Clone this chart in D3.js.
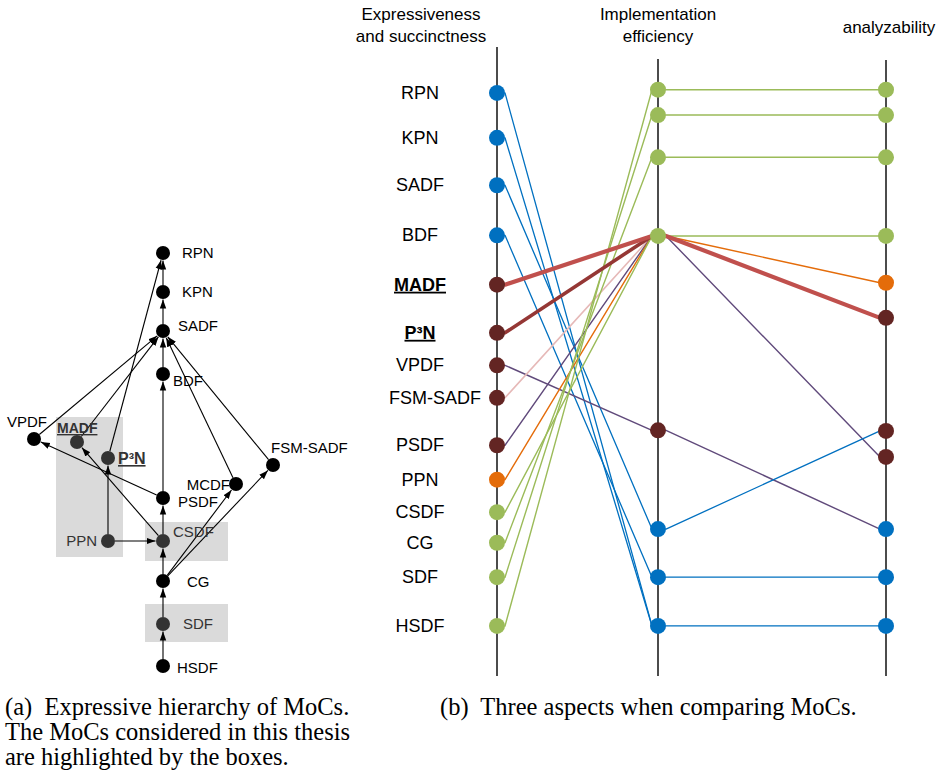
<!DOCTYPE html>
<html><head><meta charset="utf-8">
<script src="https://cdn.jsdelivr.net/npm/d3@7"></script>
<style>body{margin:0;background:#fff}</style>
</head><body>
<svg id="c" width="941" height="778" xmlns="http://www.w3.org/2000/svg"></svg>
<script>
// ================= DATA =================
// (a) expressive hierarchy
const hierNames  = ["RPN","KPN","SADF","BDF","VPDF","MADF","P³N","FSM-SADF","MCDF","PSDF","PPN","CSDF","CG","SDF","HSDF"];
const hierCol    = [129,129,129,129,0,43,74,239,202,129,74,129,129,129,129];
const hierLevel  = [41.3,37.4,33.5,29.2,22.7,22.4,20.8,20.1,18.2,16.8,12.5,12.5,8.5,4.2,0];
const hierEdges  = [["KPN","RPN"],["SADF","KPN"],["BDF","SADF"],["PSDF","BDF"],["CSDF","PSDF"],["CG","CSDF"],
                    ["SDF","CG"],["HSDF","SDF"],["VPDF","SADF"],["MADF","SADF"],["P³N","RPN"],["MCDF","SADF"],
                    ["FSM-SADF","SADF"],["PSDF","VPDF"],["CSDF","MADF"],["PPN","P³N"],["PPN","CSDF"],
                    ["CG","MCDF"],["CG","FSM-SADF"]];
const thesisGroups = [["MADF","P³N","PPN"],["CSDF"],["SDF"]];

// (b) three aspects
const aspects    = ["Expressiveness\nand succinctness","Implementation\nefficiency","analyzability"];
const mocNames   = ["RPN","KPN","SADF","BDF","MADF","P³N","VPDF","FSM-SADF","PSDF","PPN","CSDF","CG","SDF","HSDF"];
const mocClass   = ["blue","blue","blue","blue","brown","brown","brown","brown","brown","orange","green","green","green","green"];
const exprScore  = [89.7,82.8,75.5,67.8,60.2,52.8,47.8,42.8,35.5,30.2,25.2,20.5,15.2,7.7];
const implScore  = [90.2,86.3,79.8,67.7,37.8,22.6,15.2,7.7];
const implClass  = ["green","green","green","green","brown","blue","blue","blue"];
const analScore  = [90.2,86.3,79.8,67.7,60.5,55.1,37.7,33.7,22.6,15.2,7.7];
const analClass  = ["green","green","green","green","orange","brown","brown","brown","blue","blue","blue"];
// [from index, to index, link kind]
const linksExprImpl = [[0,7,"blue"],[1,7,"blue"],[2,5,"blue"],[3,6,"blue"],[6,4,"purple"],[7,3,"pink"],
                       [8,3,"purple"],[9,3,"orange"],[10,3,"green"],[11,2,"green"],[12,1,"green"],[13,0,"green"],
                       [5,3,"darkred"],[4,3,"red"]];
const linksImplAnal = [[0,0,"green"],[1,1,"green"],[2,2,"green"],[3,3,"green"],[3,4,"orange"],[3,7,"purple"],
                       [4,8,"purple"],[5,6,"blue"],[6,9,"blue"],[7,10,"blue"],[3,5,"red"]];
const boldNames = ["MADF","P³N"];

// ================= STYLES =================
const nodeColor = {blue:"#0070c0",brown:"#632523",orange:"#e46c0a",green:"#9bbb59"};
const linkStyle = {blue:["#0070c0",1.3],green:["#9bbb59",1.4],purple:["#604a7b",1.4],pink:["#e6b9b8",1.6],
                   orange:["#e46c0a",1.4],red:["#c0504d",4.2],darkred:["#953735",3.6]};
const sans = "'Liberation Sans', Arial, sans-serif";
const serif = "'Liberation Serif', 'Times New Roman', serif";

const svg = d3.select("#c");

// ================= (a) =================
const xa = d3.scaleLinear().domain([0,239]).range([34,273]);
const ya = d3.scaleLinear().domain([0,41.3]).range([666,253]);
const hier = hierNames.map((n,i)=>({name:n,x:xa(hierCol[i]),y:ya(hierLevel[i])}));
const H = Object.fromEntries(hier.map(d=>[d.name,d]));
const highlighted = new Set(thesisGroups.flat());

svg.append("defs").append("marker").attr("id","arr").attr("viewBox","0 -4 9 8")
  .attr("markerWidth",9).attr("markerHeight",8).attr("refX",9).attr("refY",0)
  .attr("markerUnits","userSpaceOnUse").attr("orient","auto")
  .append("path").attr("d","M0,-3.2L9,0L0,3.2Z").attr("fill","#000");

const ga = svg.append("g");
// boxes
const boxPad = [[21,15,25,16],[18,65,19,20],[18,65,20,18]]; // left,right,top,bottom
thesisGroups.forEach((g,i)=>{
  const xs=g.map(n=>H[n].x), ys=g.map(n=>H[n].y), p=boxPad[i];
  ga.append("rect").attr("x",d3.min(xs)-p[0]).attr("y",d3.min(ys)-p[2])
    .attr("width",d3.max(xs)-d3.min(xs)+p[0]+p[1]).attr("height",d3.max(ys)-d3.min(ys)+p[2]+p[3])
    .attr("fill","#dadada");
});
const rA = 7;
hierEdges.forEach(([s,t])=>{
  const a=H[s], b=H[t]; const dx=b.x-a.x, dy=b.y-a.y, L=Math.hypot(dx,dy), ux=dx/L, uy=dy/L;
  ga.append("line").attr("x1",a.x+ux*rA).attr("y1",a.y+uy*rA).attr("x2",b.x-ux*(rA+0.5)).attr("y2",b.y-uy*(rA+0.5))
    .attr("stroke","#000").attr("stroke-width",1.1).attr("marker-end","url(#arr)");
});
ga.selectAll("circle.h").data(hier).join("circle").attr("cx",d=>d.x).attr("cy",d=>d.y).attr("r",rA)
  .attr("fill",d=>highlighted.has(d.name)?"#333":"#000");
// labels (a)
const labA = {RPN:[19,5,"start"],KPN:[19,5,"start"],SADF:[15,0,"start"],BDF:[10,12,"start"],VPDF:[-27,-12,"start"],
  MADF:[-20,-9,"start"],"P³N":[10,6,"start"],"FSM-SADF":[-2,-12,"start"],MCDF:[-6,6,"end"],PSDF:[15,9,"start"],
  PPN:[-11,5,"end"],CSDF:[10,-4,"start"],CG:[24,6,"start"],SDF:[20,5,"start"],HSDF:[14,7,"start"]};
hier.forEach(d=>{
  const o=labA[d.name]; const bold=boldNames.includes(d.name);
  ga.append("text").attr("x",d.x+o[0]).attr("y",d.y+o[1]).attr("text-anchor",o[2])
    .attr("font-family",sans).attr("font-size",d.name==="P³N"?16:(d.name==="MADF"?14:15))
    .attr("font-weight",bold?"bold":"normal").attr("text-decoration",bold?"underline":"none")
    .attr("fill",highlighted.has(d.name)?"#333":"#000").text(d.name);
});

// ================= (b) =================
const xb = d3.scaleOrdinal().domain(aspects).range([497,658,886]);
const yb = d3.scaleLinear().domain([0,100]).range([676,26]);
const axisTop = [47,59,60];
const gb = svg.append("g");
aspects.forEach((a,i)=>{
  gb.append("line").attr("x1",xb(a)).attr("x2",xb(a)).attr("y1",axisTop[i]).attr("y2",676)
    .attr("stroke","#111").attr("stroke-width",1.5);
  const lines=a.split("\n"); const x0=[421,658,889][i];
  lines.forEach((l,j)=>{
    gb.append("text").attr("x",x0).attr("y",(lines.length===1?33:20)+j*22).attr("text-anchor","middle")
      .attr("font-family",sans).attr("font-size",17).attr("fill","#000").text(l);
  });
});
const E = mocNames.map((n,i)=>({x:xb(aspects[0]),y:yb(exprScore[i]),c:mocClass[i],name:n}));
const I = implScore.map((v,i)=>({x:xb(aspects[1]),y:yb(v),c:implClass[i]}));
const A = analScore.map((v,i)=>({x:xb(aspects[2]),y:yb(v),c:analClass[i]}));
function drawLinks(links,S,T){
  links.forEach(([s,t,k])=>{
    gb.append("line").attr("x1",S[s].x+8).attr("y1",S[s].y).attr("x2",T[t].x-6).attr("y2",T[t].y)
      .attr("stroke",linkStyle[k][0]).attr("stroke-width",linkStyle[k][1]).attr("stroke-linecap","round");
  });
}
drawLinks(linksImplAnal,I,A);
drawLinks(linksExprImpl,E,I);
[E,I,A].forEach(arr=>{
  gb.append("g").selectAll("circle").data(arr).join("circle").attr("cx",d=>d.x).attr("cy",d=>d.y)
    .attr("r",8).attr("fill",d=>nodeColor[d.c]);
});
E.forEach(d=>{
  const bold=boldNames.includes(d.name);
  gb.append("text").attr("x",d.name==="FSM-SADF"?435:420).attr("y",d.y+6).attr("text-anchor","middle")
    .attr("font-family",sans).attr("font-size",18).attr("font-weight",bold?"bold":"normal")
    .attr("text-decoration",bold?"underline":"none").attr("fill","#000").text(d.name);
});

// ================= captions =================
const capA = ["(a)  Expressive hierarchy of MoCs.","The MoCs considered in this thesis","are highlighted by the boxes."];
capA.forEach((t,i)=>svg.append("text").attr("x",5).attr("y",715+i*25).attr("font-family",serif)
  .attr("font-size",24.5).style("white-space","pre").attr("fill","#000").text(t));
svg.append("text").attr("x",440).attr("y",715).attr("font-family",serif).attr("font-size",24.5)
  .style("white-space","pre").attr("fill","#000").text("(b)  Three aspects when comparing MoCs.");
</script>
</body></html>
